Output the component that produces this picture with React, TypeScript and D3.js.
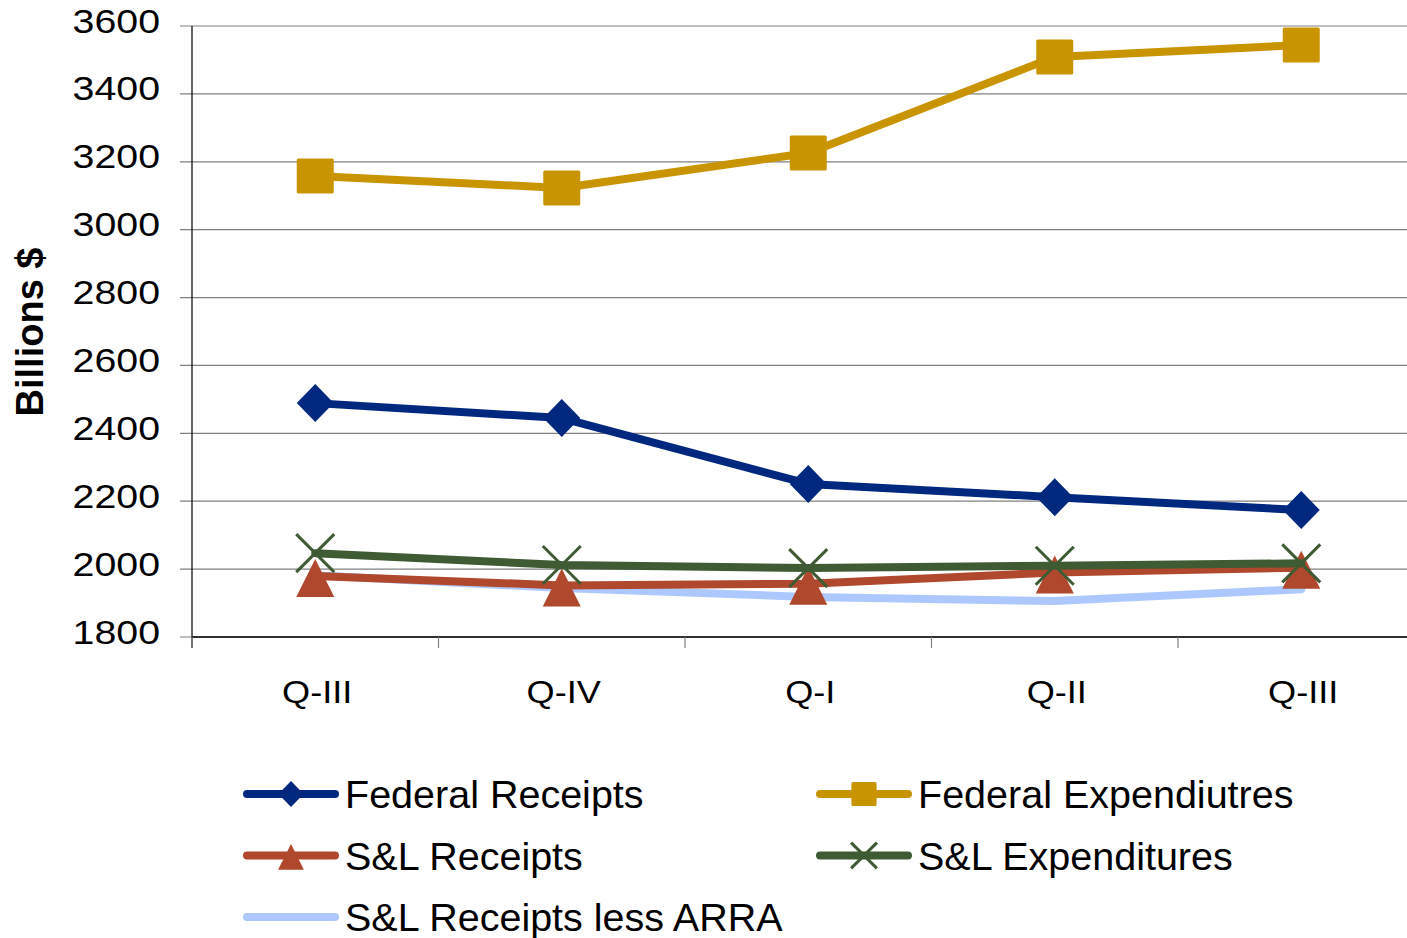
import React from "react";
import * as d3 from "d3";

const categories = ["Q-III", "Q-IV", "Q-I", "Q-II", "Q-III"];
const yTicks = [1800, 2000, 2200, 2400, 2600, 2800, 3000, 3200, 3400, 3600];

const federalReceipts = [2489, 2445, 2251, 2212, 2174];
const federalExpenditures = [3158, 3123, 3226, 3509, 3544];
const slReceipts = [1980, 1952, 1957, 1990, 2004];
const slExpenditures = [2047, 2012, 2003, 2010, 2017];
const slReceiptsLessArra = [1982, 1944, 1918, 1906, 1941];

const W = 1407;
const H = 938;
const left = 192;
const top = 26;
const bottom = 637;
const plotRight = 1424.5;

type Marker = "diamond" | "square" | "triangle" | "x" | "none";

const seriesList: { name: string; values: number[]; color: string; marker: Marker }[] = [
  { name: "S&L Receipts less ARRA", values: slReceiptsLessArra, color: "#ADC8FF", marker: "none" },
  { name: "S&L Receipts", values: slReceipts, color: "#B0482D", marker: "triangle" },
  { name: "S&L Expenditures", values: slExpenditures, color: "#3E5B33", marker: "x" },
  { name: "Federal Receipts", values: federalReceipts, color: "#00287F", marker: "diamond" },
  { name: "Federal Expendiutres", values: federalExpenditures, color: "#C89500", marker: "square" },
];

const legendItems: { name: string; col: number; row: number }[] = [
  { name: "Federal Receipts", col: 0, row: 0 },
  { name: "Federal Expendiutres", col: 1, row: 0 },
  { name: "S&L Receipts", col: 0, row: 1 },
  { name: "S&L Expenditures", col: 1, row: 1 },
  { name: "S&L Receipts less ARRA", col: 0, row: 2 },
];

function markerEl(m: Marker, cx: number, cy: number, color: string, s: number, key?: string) {
  if (m === "diamond") {
    const hw = 18.5 * s, hh = 19 * s;
    return <path key={key} d={`M${cx},${cy - hh}L${cx + hw},${cy}L${cx},${cy + hh}L${cx - hw},${cy}Z`} fill={color} />;
  }
  if (m === "square") {
    const hw = 18.5 * s, hh = 17.5 * s;
    return <rect key={key} x={cx - hw} y={cy - hh} width={2 * hw} height={2 * hh} rx={1.5} fill={color} />;
  }
  if (m === "triangle") {
    const hw = 19 * s;
    return <path key={key} d={`M${cx},${cy - 17 * s}L${cx + hw},${cy + 21 * s}L${cx - hw},${cy + 21 * s}Z`} fill={color} />;
  }
  if (m === "x") {
    const hw = 19 * s, hh = 19 * s;
    return (
      <g key={key} stroke={color} strokeWidth={3}>
        <line x1={cx - hw} y1={cy - hh} x2={cx + hw} y2={cy + hh} />
        <line x1={cx - hw} y1={cy + hh} x2={cx + hw} y2={cy - hh} />
      </g>
    );
  }
  return null;
}

export default function App() {
  const x = d3.scaleBand<number>().domain(d3.range(categories.length)).range([left, plotRight]).padding(0);
  const y = d3.scaleLinear().domain([1800, 3600]).range([bottom, top]);
  const cx = (i: number) => (x(i) as number) + x.bandwidth() / 2;
  const line = d3.line<number>().x((_, i) => cx(i)).y((v) => y(v));
  const font = "'Liberation Sans', Arial, sans-serif";

  const xTickPos = d3.range(categories.length + 1).map((i) => left + i * x.bandwidth());

  return (
    <svg width={W} height={H} style={{ position: "absolute", left: 0, top: 0, background: "#fff" }} overflow="hidden">
      <rect x={0} y={0} width={W} height={H} fill="#fff" />
      {yTicks.map((t) => (
        <g key={t}>
          <line x1={180} x2={W} y1={y(t)} y2={y(t)} stroke="#808080" strokeWidth={1.2} />
          <text
            transform={`translate(160,${y(t) + 6.5}) scale(1.21,1)`}
            textAnchor="end"
            fontFamily={font}
            fontSize={32.5}
            fill="#000"
          >
            {t}
          </text>
        </g>
      ))}
      <line x1={left} x2={left} y1={top} y2={648} stroke="#000" strokeWidth={1.2} />
      <line x1={left} x2={W} y1={bottom} y2={bottom} stroke="#000" strokeWidth={1.5} />
      {xTickPos.map((p, i) => (
        <line key={i} x1={p} x2={p} y1={bottom} y2={648} stroke="#808080" strokeWidth={1.2} />
      ))}
      {categories.map((c, i) => (
        <text
          key={i}
          transform={`translate(${cx(i) + 2},${703}) scale(1.13,1)`}
          textAnchor="middle"
          fontFamily={font}
          fontSize={32}
          fill="#000"
        >
          {c}
        </text>
      ))}
      <text
        transform={`translate(43,332) rotate(-90)`}
        textAnchor="middle"
        fontFamily={font}
        fontSize={38}
        fontWeight="bold"
        fill="#000"
      >
        Billions $
      </text>
      {seriesList.map((s) => (
        <g key={s.name}>
          <path d={line(s.values) || ""} fill="none" stroke={s.color} strokeWidth={8} strokeLinejoin="round" strokeLinecap="round" />
          {s.values.map((v, i) => markerEl(s.marker, cx(i), y(v), s.color, 1, `${s.name}-${i}`))}
        </g>
      ))}
      {legendItems.map((it) => {
        const s = seriesList.find((d) => d.name === it.name)!;
        const lx0 = it.col === 0 ? 247 : 820;
        const lx1 = lx0 + 88;
        const ly = 794 + it.row * 61.5;
        return (
          <g key={it.name}>
            <line x1={lx0} x2={lx1} y1={ly} y2={ly} stroke={s.color} strokeWidth={8} strokeLinecap="round" />
            {markerEl(s.marker, (lx0 + lx1) / 2, ly, s.color, 0.68)}
            <text x={lx1 + 10} y={ly + 14} fontFamily={font} fontSize={39.5} fill="#000">
              {it.name}
            </text>
          </g>
        );
      })}
    </svg>
  );
}
